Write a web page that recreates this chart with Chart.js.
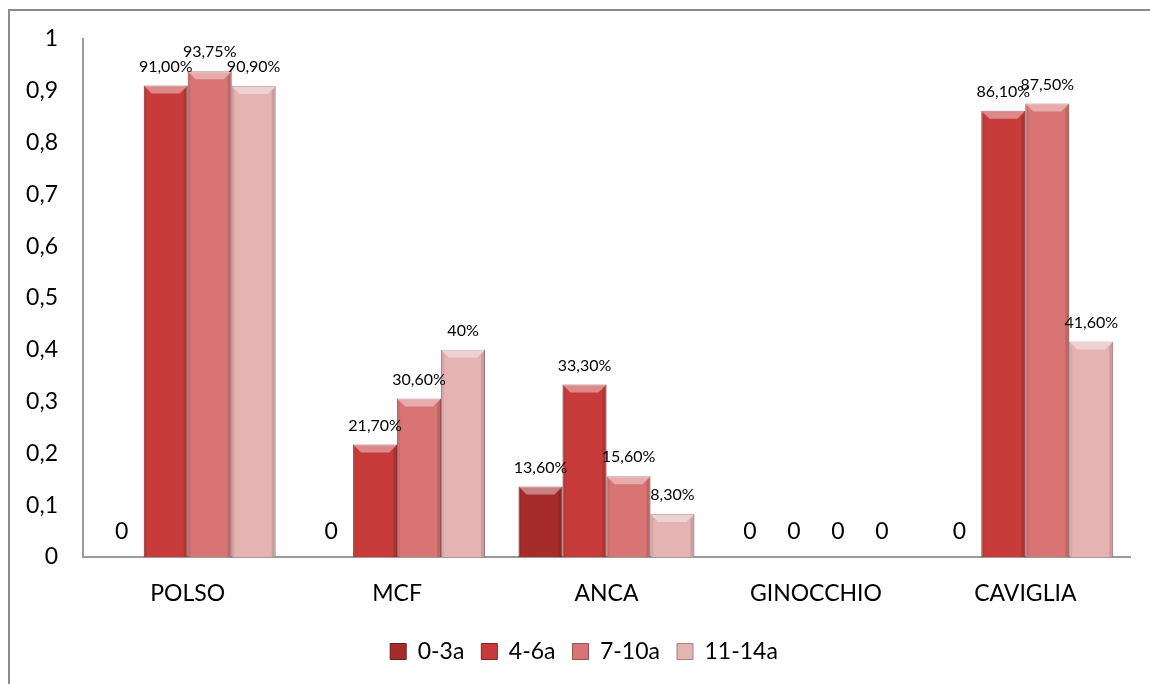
<!DOCTYPE html>
<html>
<head>
<meta charset="utf-8">
<script src="https://cdn.jsdelivr.net/npm/chart.js@4/dist/chart.umd.min.js"></script>
<style>
  html, body { margin: 0; padding: 0; background: #ffffff; overflow: hidden; }
  #wrap { position: absolute; left: 0; top: 0; width: 1150px; height: 684px; }
  #frame { position: absolute; left: 8px; top: 9px; width: 1200px; height: 720px; border: 2px solid #8c8c8c; box-sizing: border-box; pointer-events: none; }
</style>
</head>
<body>
<div id="wrap">
  <div id="frame"></div>
  <canvas id="c" width="1150" height="684"></canvas>
</div>
<script>
const categories = ['POLSO', 'MCF', 'ANCA', 'GINOCCHIO', 'CAVIGLIA'];
const seriesNames = ['0-3a', '4-6a', '7-10a', '11-14a'];
const values03 = [0, 0, 0.136, 0, 0];
const values46 = [0.91, 0.217, 0.333, 0, 0.861];
const values710 = [0.9375, 0.306, 0.156, 0, 0.875];
const values1114 = [0.909, 0.40, 0.083, 0, 0.416];
const labels03 = ['0', '0', '13,60%', '0', '0'];
const labels46 = ['91,00%', '21,70%', '33,30%', '0', '86,10%'];
const labels710 = ['93,75%', '30,60%', '15,60%', '0', '87,50%'];
const labels1114 = ['90,90%', '40%', '8,30%', '0', '41,60%'];
const yTickLabels = ['0', '0,1', '0,2', '0,3', '0,4', '0,5', '0,6', '0,7', '0,8', '0,9', '1'];
const colors = ['#a62c2c', '#c83b3b', '#d97474', '#e6b3b3'];
const borders = ['#6e1c1c', '#7e2424', '#9a5050', '#a88080'];

const allValues = [values03, values46, values710, values1114];
const allLabels = [labels03, labels46, labels710, labels1114];

const FONT = 'Lato, "Open Sans", sans-serif';

const bevelPlugin = {
  id: 'bevel',
  afterDatasetsDraw(chart) {
    const ctx = chart.ctx;
    chart.data.datasets.forEach((ds, di) => {
      const meta = chart.getDatasetMeta(di);
      meta.data.forEach((el) => {
        const p = el.getProps(['x', 'y', 'width', 'base'], true);
        const h = p.base - p.y;
        if (h < 1) return;
        const l = p.x - p.width / 2, r = p.x + p.width / 2, t = p.y;
        const b = Math.min(8, h / 2);
        ctx.save();
        ctx.beginPath();
        ctx.moveTo(l, t); ctx.lineTo(r, t); ctx.lineTo(r - b, t + b); ctx.lineTo(l + b, t + b); ctx.closePath();
        ctx.fillStyle = 'rgba(255,255,255,0.4)';
        ctx.fill();
        ctx.beginPath();
        ctx.moveTo(r, t); ctx.lineTo(r, p.base); ctx.lineTo(r - 4, p.base); ctx.lineTo(r - 4, t + b - 3); ctx.closePath();
        ctx.fillStyle = 'rgba(0,0,0,0.12)';
        ctx.fill();
        ctx.beginPath();
        ctx.moveTo(l, t); ctx.lineTo(l, p.base); ctx.lineTo(l + 3, p.base); ctx.lineTo(l + 3, t + b - 3); ctx.closePath();
        ctx.fillStyle = 'rgba(0,0,0,0.07)';
        ctx.fill();
        ctx.restore();
      });
    });
  }
};

const labelPlugin = {
  id: 'valueLabels',
  afterDatasetsDraw(chart) {
    const ctx = chart.ctx;
    ctx.save();
    ctx.fillStyle = '#000000';
    ctx.textAlign = 'center';
    ctx.textBaseline = 'middle';
    chart.data.datasets.forEach((ds, di) => {
      const meta = chart.getDatasetMeta(di);
      meta.data.forEach((el, i) => {
        const p = el.getProps(['x', 'y'], true);
        const txt = allLabels[di][i];
        if (allValues[di][i] === 0) {
          ctx.font = '23px ' + FONT;
          ctx.fillText(txt, p.x, p.y - 25);
        } else {
          ctx.font = '16px ' + FONT;
          ctx.fillText(txt, p.x, p.y - 19);
        }
      });
    });
    ctx.restore();
  }
};

const legendShift = {
  id: 'legendShift',
  afterLayout(chart) {
    if (chart.legend) {
      chart.legend.left += 14;
      chart.legend.right += 14;
    }
  }
};

new Chart(document.getElementById('c'), {
  type: 'bar',
  data: {
    labels: categories,
    datasets: seriesNames.map((name, i) => ({
      label: name,
      data: allValues[i],
      backgroundColor: colors[i],
      borderColor: borders[i],
      borderWidth: 1,
      categoryPercentage: 0.84,
      barPercentage: 1.0
    }))
  },
  options: {
    responsive: false,
    animation: false,
    devicePixelRatio: 1,
    layout: { padding: { top: 33, right: 20, bottom: 11, left: 10 } },
    plugins: {
      tooltip: { enabled: false },
      legend: {
        position: 'bottom',
        labels: {
          font: { family: FONT, size: 23 },
          color: '#000',
          boxWidth: 16,
          boxHeight: 16,
          padding: 17
        }
      }
    },
    scales: {
      x: {
        grid: { display: false, drawTicks: false },
        border: { display: true, color: '#9a9a9a', width: 2 },
        ticks: { font: { family: FONT, size: 23 }, color: '#000', padding: 23 },
        afterFit(s) { s.height = 66; }
      },
      y: {
        min: 0,
        max: 1,
        grid: { display: false, drawTicks: false },
        border: { display: true, color: '#9a9a9a', width: 2 },
        ticks: {
          stepSize: 0.1,
          font: { family: FONT, size: 23 },
          color: '#000',
          padding: 25,
          callback: (v, i) => yTickLabels[i]
        },
        afterFit(s) { s.width = 73; }
      }
    }
  },
  plugins: [bevelPlugin, labelPlugin, legendShift]
});
</script>
</body>
</html>
